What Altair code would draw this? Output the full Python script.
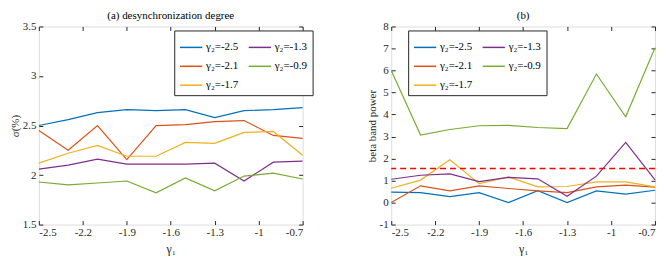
import altair as alt
import pandas as pd

x_vals = [-2.5, -2.3, -2.1, -1.9, -1.7, -1.5, -1.3, -1.1, -0.9, -0.7]

series_names = ["γ₂=-2.5", "γ₂=-2.1", "γ₂=-1.7", "γ₂=-1.3", "γ₂=-0.9"]
series_colors = ["#0072BD", "#D95319", "#EDB120", "#7E2F8E", "#77AC30"]

sigma_25 = [2.50, 2.56, 2.63, 2.66, 2.65, 2.66, 2.58, 2.65, 2.66, 2.68]
sigma_21 = [2.45, 2.25, 2.50, 2.155, 2.50, 2.51, 2.54, 2.55, 2.40, 2.37]
sigma_17 = [2.12, 2.22, 2.30, 2.19, 2.19, 2.33, 2.32, 2.43, 2.44, 2.20]
sigma_13 = [2.06, 2.10, 2.16, 2.11, 2.11, 2.11, 2.12, 1.94, 2.13, 2.14]
sigma_09 = [1.93, 1.90, 1.92, 1.94, 1.82, 1.97, 1.84, 1.99, 2.02, 1.96]

beta_25 = [0.47, 0.45, 0.27, 0.45, 0.00, 0.54, 0.00, 0.53, 0.38, 0.56]
beta_21 = [0.00, 0.76, 0.53, 0.76, 0.64, 0.53, 0.45, 0.71, 0.79, 0.70]
beta_17 = [0.65, 1.02, 1.94, 0.86, 1.17, 0.71, 0.73, 0.94, 0.94, 0.71]
beta_13 = [1.06, 1.24, 1.30, 0.95, 1.14, 1.08, 0.29, 1.20, 2.73, 1.03]
beta_09 = [6.00, 3.07, 3.32, 3.49, 3.51, 3.41, 3.36, 5.84, 3.90, 7.03]

beta_threshold = [1.55]

x_ticks = [-2.5, -2.2, -1.9, -1.6, -1.3, -1.0, -0.7]
sigma_ticks = [1.5, 2.0, 2.5, 3.0, 3.5]
beta_ticks = [-1, 0, 1, 2, 3, 4, 5, 6, 7, 8]

FONT = "Liberation Serif, Times New Roman, serif"
AX = "#262626"


def make_df(series_lists):
    rows = []
    for name, vals in zip(series_names, series_lists):
        for xv, yv in zip(x_vals, vals):
            rows.append({"x": xv, "y": yv, "series": name})
    return pd.DataFrame(rows)


df_sigma = make_df([sigma_25, sigma_21, sigma_17, sigma_13, sigma_09])
df_beta = make_df([beta_25, beta_21, beta_17, beta_13, beta_09])
df_thr = pd.DataFrame({"y": beta_threshold})

W, H = 265, 199
TS = 4


def main_axis_x():
    return alt.Axis(values=x_ticks, title="γ₁", labelExpr="'' + datum.value",
                    domain=False, tickSize=TS, offset=-TS, grid=False,
                    labelPadding=2, titlePadding=6, titleFontWeight="normal",
                    titleFont=FONT, titleFontSize=12, labelFont=FONT, labelFontSize=11,
                    labelColor=AX, tickColor=AX, titleColor=AX)


def main_axis_y(title, ticks):
    return alt.Axis(values=ticks, title=title, labelExpr="'' + datum.value",
                    domain=False, tickSize=TS, offset=-TS, grid=False,
                    labelPadding=3, titlePadding=2, titleFontWeight="normal",
                    titleFont=FONT, titleFontSize=11, labelFont=FONT, labelFontSize=11,
                    labelColor=AX, tickColor=AX, titleColor=AX)


def side_axis(orient, ticks):
    return alt.Axis(values=ticks, orient=orient, title=None, labels=False,
                    domain=False, tickSize=TS, offset=-TS, grid=False, tickColor=AX)


def panel(df, ydom, yticks, ytitle, title, legend_x, extra=None):
    xs = alt.Scale(domain=[-2.5, -0.7], nice=False, zero=False)
    ys = alt.Scale(domain=ydom, nice=False, zero=False)
    lines = alt.Chart(df).mark_line(strokeWidth=1.2).encode(
        x=alt.X("x:Q", scale=xs, axis=main_axis_x()),
        y=alt.Y("y:Q", scale=ys, axis=main_axis_y(ytitle, yticks)),
        color=alt.Color("series:N",
                        scale=alt.Scale(domain=series_names, range=series_colors),
                        legend=alt.Legend(title=None, orient="none", legendX=legend_x, legendY=4,
                                          columns=2, symbolType="stroke", symbolSize=500,
                                          symbolStrokeWidth=1.5, labelFont=FONT, labelFontSize=11,
                                          labelColor="#000000", strokeColor="#262626",
                                          fillColor="white", padding=5, rowPadding=2,
                                          columnPadding=6, labelOffset=3)),
        detail="series:N",
    )
    ghost = alt.Chart(df).mark_point(opacity=0).encode(
        x=alt.X("x:Q", scale=xs, axis=side_axis("top", x_ticks)),
        y=alt.Y("y:Q", scale=ys, axis=side_axis("right", yticks)),
    )
    layers = [lines, ghost]
    if extra is not None:
        layers.insert(1, extra)
    ch = alt.layer(*layers).resolve_scale(x="independent", y="independent").properties(
        width=W, height=H,
        title=alt.TitleParams(title, font=FONT, fontSize=11, fontWeight="normal",
                              color="#000000", offset=0),
    )
    return ch


thr = alt.Chart(df_thr).mark_rule(color="#FF0000", strokeDash=[6, 4], strokeWidth=1.5).encode(
    y=alt.Y("y:Q", scale=alt.Scale(domain=[-1, 8], nice=False, zero=False), axis=None),
)

left = panel(df_sigma, [1.5, 3.5], sigma_ticks, "σ(%)", "(a) desynchronization degree", 136)
right = panel(df_beta, [-1, 8], beta_ticks, "beta band power", "(b)", 17, extra=thr)

chart = alt.hconcat(left, right, spacing=52).resolve_scale(color="independent").resolve_legend(
    color="independent"
).properties(
    padding={"left": 0, "top": 0, "right": 0, "bottom": 0}
).configure_view(stroke=AX, strokeWidth=1).configure_axis(
    labelFont=FONT, titleFont=FONT
).configure_legend(labelFont=FONT).configure_title(font=FONT).configure(background="white")

chart.save("out.html", embed_options={"renderer": "svg", "actions": False})
